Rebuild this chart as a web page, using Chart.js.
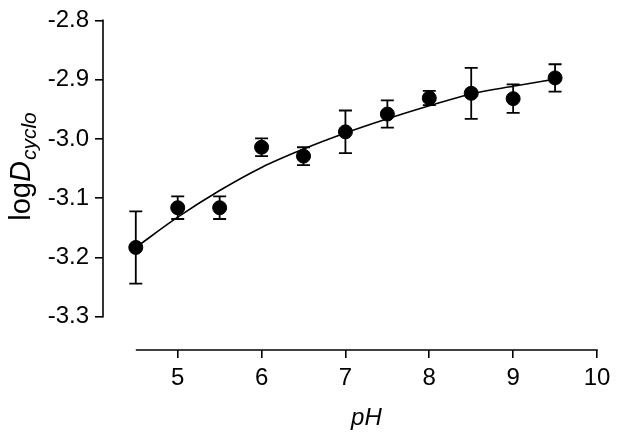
<!DOCTYPE html>
<html>
<head>
<meta charset="utf-8">
<script src="https://cdn.jsdelivr.net/npm/chart.js@4"></script>
<style>
  html, body { margin: 0; padding: 0; background: #fff; }
  #wrap { width: 618px; height: 437px; }
</style>
</head>
<body>
<div id="wrap"><canvas id="cycloChart"></canvas></div>
<script>
// measured points (pH vs logD) with symmetric error
const phValues = [4.5, 5.0, 5.5, 6.0, 6.5, 7.0, 7.5, 8.0, 8.5, 9.0, 9.5];
const logD = [-3.183, -3.116, -3.116, -3.014, -3.029, -2.988, -2.958, -2.931, -2.923, -2.932, -2.897];
const logDErr = [0.061, 0.019, 0.019, 0.015, 0.015, 0.036, 0.023, 0.012, 0.043, 0.024, 0.023];

// fitted curve
const fitX = [4.5, 5.0, 5.5, 6.0, 6.5, 7.0, 7.5, 8.0, 8.5, 9.0, 9.5];
const fitY = [-3.183, -3.132, -3.087, -3.048, -3.017, -2.990, -2.966, -2.944, -2.924, -2.911, -2.899];

const xTicks = [5, 6, 7, 8, 9, 10];
const yTicks = [-3.3, -3.2, -3.1, -3.0, -2.9, -2.8];

const FONT = '"Liberation Sans", Arial, Helvetica, sans-serif';

// error bars, axis lines and titles drawn on top using the chart scales
const extrasPlugin = {
    id: 'extras',
    beforeDatasetsDraw(chart) {
        const ctx = chart.ctx;
        const xs = chart.scales.x, ys = chart.scales.y;
        ctx.save();
        ctx.strokeStyle = '#000';
        ctx.lineWidth = 1.6;
        ctx.lineCap = 'butt';
        // y axis line
        ctx.beginPath();
        ctx.moveTo(chart.chartArea.left, ys.getPixelForValue(yTicks[yTicks.length - 1]) - 0.8);
        ctx.lineTo(chart.chartArea.left, ys.getPixelForValue(yTicks[0]) + 0.8);
        ctx.stroke();
        // x axis line
        ctx.beginPath();
        ctx.moveTo(xs.getPixelForValue(4.5), chart.chartArea.bottom);
        ctx.lineTo(xs.getPixelForValue(10) + 0.8, chart.chartArea.bottom);
        ctx.stroke();

        // error bars
        ctx.lineWidth = 1.8;
        const cap = 6.5;
        phValues.forEach((x, i) => {
            const px = xs.getPixelForValue(x);
            const top = ys.getPixelForValue(logD[i] + logDErr[i]);
            const bot = ys.getPixelForValue(logD[i] - logDErr[i]);
            ctx.beginPath();
            ctx.moveTo(px, top);
            ctx.lineTo(px, bot);
            ctx.moveTo(px - cap, top);
            ctx.lineTo(px + cap, top);
            ctx.moveTo(px - cap, bot);
            ctx.lineTo(px + cap, bot);
            ctx.stroke();
        });
        ctx.restore();
    },
    afterDraw(chart) {
        const ctx = chart.ctx;
        const xs = chart.scales.x;
        ctx.save();
        ctx.fillStyle = '#000';
        // x title
        ctx.font = 'italic 24px ' + FONT;
        ctx.textAlign = 'center';
        ctx.textBaseline = 'alphabetic';
        const cx = (xs.getPixelForValue(4.5) + xs.getPixelForValue(10)) / 2;
        ctx.fillText('pH', cx, 425);

        // y title: log D_cyclo, rotated
        ctx.translate(30, 167);
        ctx.rotate(-Math.PI / 2);
        ctx.textAlign = 'left';
        const partA = 'log', partB = 'D', partC = 'cyclo';
        ctx.font = '29px ' + FONT;
        const wA = ctx.measureText(partA).width;
        ctx.font = 'italic 29px ' + FONT;
        const wB = ctx.measureText(partB).width;
        ctx.font = 'italic 21px ' + FONT;
        const wC = ctx.measureText(partC).width;
        let sx = -(wA + wB + wC) / 2;
        ctx.font = '29px ' + FONT;
        ctx.fillText(partA, sx, 0);
        sx += wA;
        ctx.font = 'italic 29px ' + FONT;
        ctx.fillText(partB, sx, 0);
        sx += wB;
        ctx.font = 'italic 21px ' + FONT;
        ctx.fillText(partC, sx + 1, 6);
        ctx.restore();
    }
};

const canvas = document.getElementById('cycloChart');
new Chart(canvas, {
    type: 'scatter',
    data: {
        datasets: [
            {
                label: 'data',
                data: phValues.map((x, i) => ({ x: x, y: logD[i] })),
                backgroundColor: '#000',
                borderColor: '#000',
                pointRadius: 7,
                pointHoverRadius: 7,
                order: 0
            },
            {
                label: 'fit',
                type: 'line',
                data: fitX.map((x, i) => ({ x: x, y: fitY[i] })),
                borderColor: '#000',
                borderWidth: 1.6,
                pointRadius: 0,
                fill: false,
                cubicInterpolationMode: 'monotone',
                order: 1
            }
        ]
    },
    options: {
        responsive: true,
        maintainAspectRatio: false,
        animation: false,
        layout: { padding: { left: 0, top: 18, right: 21, bottom: 0 } },
        plugins: {
            legend: { display: false },
            tooltip: { enabled: false }
        },
        scales: {
            x: {
                type: 'linear',
                min: 4.109,
                max: 10,
                afterFit(scale) { scale.height = 87; },
                afterBuildTicks(scale) { scale.ticks = xTicks.map(v => ({ value: v })); },
                border: { display: false },
                grid: {
                    drawOnChartArea: false,
                    drawTicks: true,
                    tickLength: 8,
                    color: '#000',
                    lineWidth: 1.6
                },
                ticks: {
                    color: '#000',
                    padding: 6,
                    maxRotation: 0,
                    font: { family: FONT, size: 24 },
                    callback: v => String(v)
                }
            },
            y: {
                type: 'linear',
                min: -3.356,
                max: -2.8,
                afterFit(scale) { scale.width = 103; },
                afterBuildTicks(scale) { scale.ticks = yTicks.map(v => ({ value: v })); },
                border: { display: false },
                grid: {
                    drawOnChartArea: false,
                    drawTicks: true,
                    tickLength: 8,
                    color: '#000',
                    lineWidth: 1.6
                },
                ticks: {
                    color: '#000',
                    padding: 6,
                    font: { family: FONT, size: 24 },
                    callback: v => v.toFixed(1)
                }
            }
        }
    },
    plugins: [extrasPlugin]
});
</script>
</body>
</html>
